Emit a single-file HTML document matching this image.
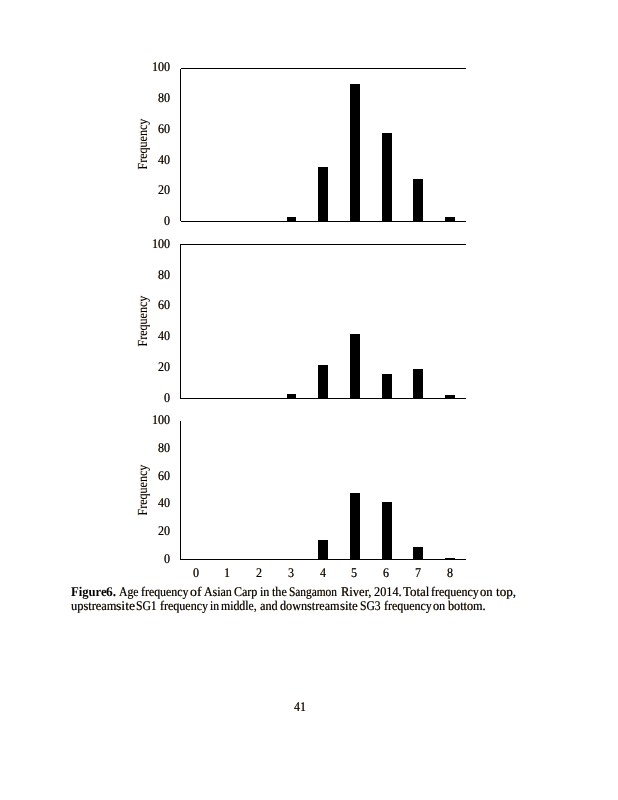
<!DOCTYPE html>
<html><head><meta charset="utf-8"><title>Figure 6</title>
<style>
html,body{margin:0;padding:0;background:#fff;}
body{width:618px;height:800px;position:relative;overflow:hidden;font-family:"Liberation Serif","Times New Roman",serif;color:#000;font-size:13.3px;text-rendering:geometricPrecision;text-shadow:-0.22px 0 0 rgba(245,140,10,0.7),0.22px 0 0 rgba(10,120,245,0.7);}
b{-webkit-text-stroke:0;text-shadow:none;}
.b{position:absolute;background:#000;}
.w{position:absolute;white-space:nowrap;line-height:16px;height:16px;transform-origin:0 12.5px;display:block;}
.cap{position:absolute;left:0;top:0;margin:0;}
.fq{position:absolute;white-space:nowrap;line-height:16px;height:16px;transform-origin:0 12.5px;text-shadow:0 -0.2px 0 rgba(245,140,10,0.45),0 0.2px 0 rgba(10,120,245,0.45);}
</style></head><body>

<!-- chart 1 -->
<div class="b" style="left:180px;top:69px;width:1px;height:152px"></div>
<div class="b" style="left:181px;top:68px;width:285px;height:1px"></div>
<div class="b" style="left:181px;top:221px;width:285px;height:1px"></div>
<div class="b" style="left:287px;top:217px;width:9px;height:4px"></div>
<div class="b" style="left:318px;top:167px;width:10px;height:54px"></div>
<div class="b" style="left:350px;top:84px;width:10px;height:137px"></div>
<div class="b" style="left:382px;top:133px;width:10px;height:88px"></div>
<div class="b" style="left:413px;top:179px;width:10px;height:42px"></div>
<div class="b" style="left:445px;top:217px;width:10px;height:4px"></div>
<span class="w" style="left:164.30px;top:212.50px;transform:scaleX(0.9023)">0</span>
<span class="w" style="left:158.30px;top:181.50px;transform:scaleX(0.9023)">20</span>
<span class="w" style="left:158.30px;top:151.50px;transform:scaleX(0.9023)">40</span>
<span class="w" style="left:158.30px;top:120.50px;transform:scaleX(0.9023)">60</span>
<span class="w" style="left:158.30px;top:89.50px;transform:scaleX(0.9023)">80</span>
<span class="w" style="left:152.30px;top:58.50px;transform:scaleX(0.9023)">100</span>
<div class="fq" style="left:146.70px;top:156.80px;transform:rotate(-90deg) scaleX(0.9040)">Frequency</div>
<!-- chart 2 -->
<div class="b" style="left:180px;top:244px;width:1px;height:155px"></div>
<div class="b" style="left:180px;top:244px;width:286px;height:1px"></div>
<div class="b" style="left:180px;top:398px;width:286px;height:1px"></div>
<div class="b" style="left:287px;top:394px;width:9px;height:4px"></div>
<div class="b" style="left:318px;top:365px;width:10px;height:33px"></div>
<div class="b" style="left:350px;top:334px;width:10px;height:64px"></div>
<div class="b" style="left:382px;top:374px;width:10px;height:24px"></div>
<div class="b" style="left:413px;top:369px;width:10px;height:29px"></div>
<div class="b" style="left:445px;top:395px;width:10px;height:3px"></div>
<span class="w" style="left:164.30px;top:389.50px;transform:scaleX(0.9023)">0</span>
<span class="w" style="left:158.30px;top:358.50px;transform:scaleX(0.9023)">20</span>
<span class="w" style="left:158.30px;top:327.50px;transform:scaleX(0.9023)">40</span>
<span class="w" style="left:158.30px;top:296.50px;transform:scaleX(0.9023)">60</span>
<span class="w" style="left:158.30px;top:266.50px;transform:scaleX(0.9023)">80</span>
<span class="w" style="left:152.30px;top:235.50px;transform:scaleX(0.9023)">100</span>
<div class="fq" style="left:146.70px;top:333.80px;transform:rotate(-90deg) scaleX(0.9040)">Frequency</div>
<!-- chart 3 -->
<div class="b" style="left:180px;top:421px;width:1px;height:139px"></div>
<div class="b" style="left:180px;top:559px;width:286px;height:1px"></div>
<div class="b" style="left:318px;top:540px;width:10px;height:19px"></div>
<div class="b" style="left:350px;top:493px;width:10px;height:66px"></div>
<div class="b" style="left:382px;top:502px;width:10px;height:57px"></div>
<div class="b" style="left:413px;top:547px;width:10px;height:12px"></div>
<div class="b" style="left:445px;top:558px;width:10px;height:1px"></div>
<span class="w" style="left:164.30px;top:550.50px;transform:scaleX(0.9023)">0</span>
<span class="w" style="left:158.30px;top:522.50px;transform:scaleX(0.9023)">20</span>
<span class="w" style="left:158.30px;top:494.50px;transform:scaleX(0.9023)">40</span>
<span class="w" style="left:158.30px;top:467.50px;transform:scaleX(0.9023)">60</span>
<span class="w" style="left:158.30px;top:439.50px;transform:scaleX(0.9023)">80</span>
<span class="w" style="left:152.30px;top:411.50px;transform:scaleX(0.9023)">100</span>
<div class="fq" style="left:146.70px;top:502.80px;transform:rotate(-90deg) scaleX(0.9040)">Frequency</div>
<!-- x axis labels -->
<span class="w" style="left:192.95px;top:564.50px;transform:scaleX(0.9023)">0</span>
<span class="w" style="left:223.95px;top:564.50px;transform:scaleX(0.9023)">1</span>
<span class="w" style="left:256.10px;top:564.50px;transform:scaleX(0.9023)">2</span>
<span class="w" style="left:287.55px;top:564.50px;transform:scaleX(0.9023)">3</span>
<span class="w" style="left:319.85px;top:564.50px;transform:scaleX(0.9023)">4</span>
<span class="w" style="left:351.20px;top:564.50px;transform:scaleX(0.9023)">5</span>
<span class="w" style="left:382.75px;top:564.50px;transform:scaleX(0.9023)">6</span>
<span class="w" style="left:414.60px;top:564.50px;transform:scaleX(0.9023)">7</span>
<span class="w" style="left:446.90px;top:564.50px;transform:scaleX(0.9023)">8</span>
<!-- caption -->
<p class="cap">
<b class="w" style="left:70.69px;top:583.50px;transform:scaleX(0.9510)">Figure</b>
<b class="w" style="left:106.45px;top:583.50px;transform:scaleX(1.0136)">6.</b>
<span class="w" style="left:118.90px;top:583.50px;transform:scaleX(0.8791)">Age</span>
<span class="w" style="left:141.00px;top:583.50px;transform:scaleX(0.8928)">frequency</span>
<span class="w" style="left:190.43px;top:583.50px;transform:scaleX(1.0352)">of</span>
<span class="w" style="left:203.90px;top:583.50px;transform:scaleX(0.8957)">Asian</span>
<span class="w" style="left:233.80px;top:583.50px;transform:scaleX(0.9023)">Carp</span>
<span class="w" style="left:259.70px;top:583.50px;transform:scaleX(0.9023)">in</span>
<span class="w" style="left:272.20px;top:583.50px;transform:scaleX(0.9119)">the</span>
<span class="w" style="left:289.24px;top:583.50px;transform:scaleX(0.8532)">Sangamon</span>
<span class="w" style="left:341.39px;top:583.50px;transform:scaleX(0.9408)">River,</span>
<span class="w" style="left:373.59px;top:583.50px;transform:scaleX(0.9233)">2014.</span>
<span class="w" style="left:403.08px;top:583.50px;transform:scaleX(0.9737)">Total</span>
<span class="w" style="left:431.20px;top:583.50px;transform:scaleX(0.8985)">frequency</span>
<span class="w" style="left:479.68px;top:583.50px;transform:scaleX(0.9422)">on</span>
<span class="w" style="left:495.59px;top:583.50px;transform:scaleX(0.9899)">top,</span>
<span class="w" style="left:70.69px;top:597.50px;transform:scaleX(0.9333)">upstream</span>
<span class="w" style="left:116.43px;top:597.50px;transform:scaleX(1.0336)">site</span>
<span class="w" style="left:135.92px;top:597.50px;transform:scaleX(0.8749)">SG1</span>
<span class="w" style="left:159.80px;top:597.50px;transform:scaleX(0.9023)">frequency</span>
<span class="w" style="left:210.01px;top:597.50px;transform:scaleX(0.8715)">in</span>
<span class="w" style="left:221.41px;top:597.50px;transform:scaleX(0.8869)">middle,</span>
<span class="w" style="left:259.59px;top:597.50px;transform:scaleX(0.9184)">and</span>
<span class="w" style="left:279.99px;top:597.50px;transform:scaleX(0.9162)">downstream</span>
<span class="w" style="left:339.87px;top:597.50px;transform:scaleX(0.9651)">site</span>
<span class="w" style="left:359.93px;top:597.50px;transform:scaleX(0.8708)">SG3</span>
<span class="w" style="left:383.80px;top:597.50px;transform:scaleX(0.8985)">frequency</span>
<span class="w" style="left:432.99px;top:597.50px;transform:scaleX(0.9182)">on</span>
<span class="w" style="left:448.20px;top:597.50px;transform:scaleX(0.9172)">bottom.</span>
</p>
<span class="w" style="left:293.60px;top:698.50px;transform:scaleX(0.8941)">41</span>
</body></html>
